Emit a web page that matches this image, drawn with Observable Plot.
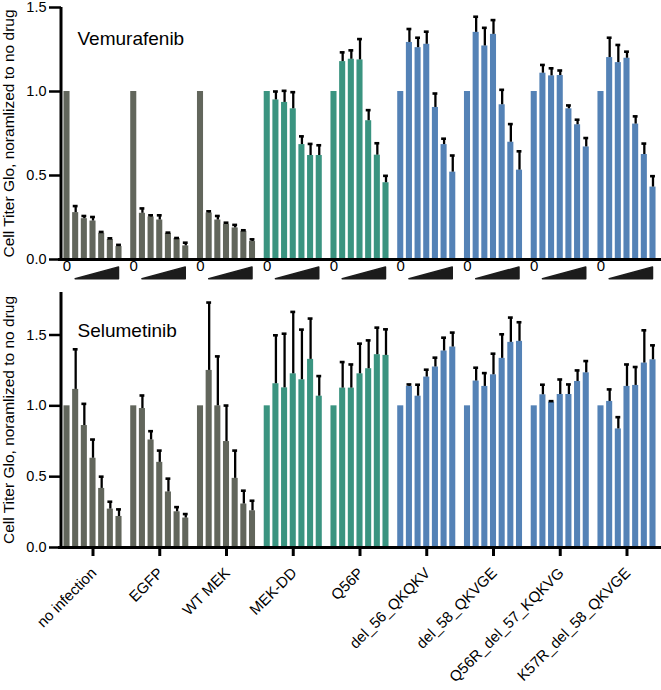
<!DOCTYPE html>
<html><head><meta charset="utf-8">
<script src="https://cdn.jsdelivr.net/npm/d3@7"></script>
<script src="https://cdn.jsdelivr.net/npm/@observablehq/plot@0.6"></script>
<style>
body{margin:0;background:#fff;font-family:"Liberation Sans",Arial,sans-serif}
#chart svg{display:block}
</style></head><body><div id="chart"></div>
<script>
const groups = ["no infection","EGFP","WT MEK","MEK-DD","Q56P","del_56_QKQKV","del_58_QKVGE","Q56R_del_57_KQKVG","K57R_del_58_QKVGE"];
const groupType = ["control","control","control","activating","activating","mutant","mutant","mutant","mutant"];
const doses = [0,1,2,3,4,5,6];
const yLabel = "Cell Titer Glo, noramlized to no drug";

const vemuMean = [
  [1.0,0.279,0.243,0.229,0.156,0.119,0.077],
  [1.0,0.275,0.253,0.235,0.156,0.125,0.081],
  [1.0,0.277,0.235,0.209,0.188,0.168,0.107],
  [1.0,0.950,0.935,0.897,0.684,0.619,0.619],
  [1.0,1.178,1.192,1.188,0.826,0.621,0.457],
  [1.0,1.292,1.261,1.281,0.905,0.684,0.520],
  [1.0,1.352,1.271,1.340,0.921,0.698,0.532],
  [1.0,1.109,1.093,1.095,0.897,0.802,0.670],
  [1.0,1.202,1.172,1.198,0.806,0.625,0.431]
];
const vemuUpper = [
  [null,0.318,0.259,0.253,0.164,0.126,0.087],
  [null,0.304,0.263,0.263,0.160,0.128,0.100],
  [null,0.287,0.259,0.219,0.206,0.174,0.120],
  [null,1.000,1.004,0.996,0.733,0.688,0.680],
  [null,1.233,1.245,1.312,0.889,0.692,0.498],
  [null,1.372,1.320,1.356,0.988,0.719,0.619],
  [null,1.445,1.379,1.425,1.010,0.806,0.644],
  [null,1.158,1.138,1.125,0.917,0.832,0.723],
  [null,1.320,1.277,1.237,0.852,0.690,0.496]
];
const seluMean = [
  [1.0,1.116,0.861,0.630,0.417,0.271,0.219],
  [1.0,0.981,0.759,0.601,0.392,0.252,0.208],
  [1.0,1.250,1.000,0.748,0.488,0.307,0.259],
  [1.0,1.156,1.127,1.226,1.184,1.328,1.068],
  [1.0,1.125,1.125,1.226,1.262,1.361,1.356],
  [1.0,1.137,1.068,1.203,1.274,1.387,1.415],
  [1.0,1.175,1.137,1.219,1.335,1.448,1.455],
  [1.0,1.078,1.026,1.080,1.080,1.172,1.233],
  [1.0,1.031,0.837,1.137,1.144,1.302,1.325]
];
const seluUpper = [
  [null,1.399,1.014,0.762,0.500,0.323,0.269],
  [null,1.073,0.821,0.684,0.486,0.285,0.236],
  [null,1.729,1.349,1.002,0.684,0.401,0.330],
  [null,1.498,1.509,1.663,1.538,1.616,1.210],
  [null,1.309,1.292,1.439,1.462,1.552,1.540],
  [null,1.151,1.149,1.255,1.340,1.481,1.517],
  [null,1.269,1.231,1.368,1.505,1.623,1.590],
  [null,1.149,1.033,1.186,1.151,1.250,1.316],
  [null,1.116,0.920,1.292,1.274,1.533,1.427]
];
const yTicks = [0,0.5,1.0,1.5];

const FONT = "Liberation Sans, Arial, Helvetica, sans-serif";
const W = 661, ML = 61, MR = 3, FX_PAD = 0.056;
const fxStep = (W - ML - MR) / (groups.length - FX_PAD);
const fw = fxStep * (1 - FX_PAD);
const first = () => groups[0];

function rowsOf(means, uppers) {
  return groups.flatMap((g, i) => doses.map((d, j) => ({
    group: g, type: groupType[i], dose: d, value: means[i][j], upper: uppers[i][j]
  })));
}

function panel({title, means, uppers, yMax, height, marginTop, marginBottom, bottomLabels, titleDy}) {
  const rows = rowsOf(means, uppers);
  const err = rows.filter(r => r.upper != null);
  const pxPerUnit = (height - marginTop - marginBottom) / yMax;
  const marks = [
    Plot.barY(rows, {fx: "group", x: "dose", y: "value", fill: "type"}),
    Plot.ruleX(err, {fx: "group", x: "dose", y1: "value", y2: "upper", stroke: "#000", strokeWidth: 2.3}),
    Plot.tickY(err, {fx: "group", x: "dose", y: "upper", stroke: "#000", strokeWidth: 2.6, insetLeft: 0.6, insetRight: 0.6}),
    Plot.ruleY([0], {stroke: "#000", strokeWidth: 3, insetLeft: -3, insetRight: -3}),
    // y axis line, ticks, tick labels and title, bound to the first facet
    Plot.rect([0], {fx: first, y1: () => 0, y2: () => yMax, insetLeft: -1.5, insetRight: fw - 1.5, fill: "#000"}),
    Plot.ruleY(yTicks, {fx: first, y: d => d, stroke: "#000", strokeWidth: 2.5, insetLeft: -12, insetRight: fw}),
    Plot.text(yTicks, {fx: first, y: d => d, text: d => d3.format(".1f")(d), frameAnchor: "left", textAnchor: "end", dx: -15, fontSize: 14.5}),
    Plot.text([yLabel], {fx: first, text: d => d, frameAnchor: "left", rotate: -90, textAnchor: "middle", lineAnchor: "top", dx: -59, fontSize: 15.5}),
    Plot.text([title], {fx: first, text: d => d, frameAnchor: "top-left", dx: 16, dy: titleDy, fontSize: 19, textAnchor: "start"})
  ];
  if (bottomLabels) {
    marks.push(
      Plot.ruleX(groups, {fx: d => d, x: () => 3, y1: () => 0, y2: () => -9 / pxPerUnit, stroke: "#000", strokeWidth: 3}),
      Plot.text(groups, {fx: d => d, text: d => d, frameAnchor: "bottom", rotate: -45, textAnchor: "end", lineAnchor: "middle", dx: 1, dy: 23, fontSize: 15})
    );
  } else {
    const wedge = groups.flatMap(g => [
      {group: g, dose: 1, lo: -0.118, hi: -0.118},
      {group: g, dose: 6, lo: -0.118, hi: -0.047}
    ]);
    marks.push(
      Plot.areaY(wedge, {fx: "group", x: "dose", y1: "lo", y2: "hi", fill: "#1c1c1c", stroke: "#1c1c1c", strokeWidth: 1.5, z: "group"}),
      Plot.text(groups, {fx: d => d, x: () => 0, text: () => "0", frameAnchor: "bottom", dy: 11, fontSize: 15})
    );
  }
  return Plot.plot({
    width: W, height, marginLeft: ML, marginRight: MR, marginTop, marginBottom,
    style: {fontFamily: FONT, color: "#000", overflow: "visible"},
    fx: {domain: groups, paddingInner: FX_PAD, paddingOuter: 0, round: false, axis: null, label: null},
    x: {type: "band", domain: doses, paddingInner: 0.3, paddingOuter: 0.285, round: false, axis: null},
    y: {domain: [0, yMax], axis: null},
    color: {domain: ["control","activating","mutant"], range: ["#62665c","#3a9480","#5482b6"]},
    marks
  });
}

const el = document.getElementById("chart");
el.append(panel({title: "Vemurafenib", means: vemuMean, uppers: vemuUpper, yMax: 1.5, height: 283, marginTop: 7, marginBottom: 24, bottomLabels: false, titleDy: 24}));
el.append(panel({title: "Selumetinib", means: seluMean, uppers: seluUpper, yMax: 1.8, height: 407, marginTop: 9, marginBottom: 143, bottomLabels: true, titleDy: 31}));
</script></body></html>
